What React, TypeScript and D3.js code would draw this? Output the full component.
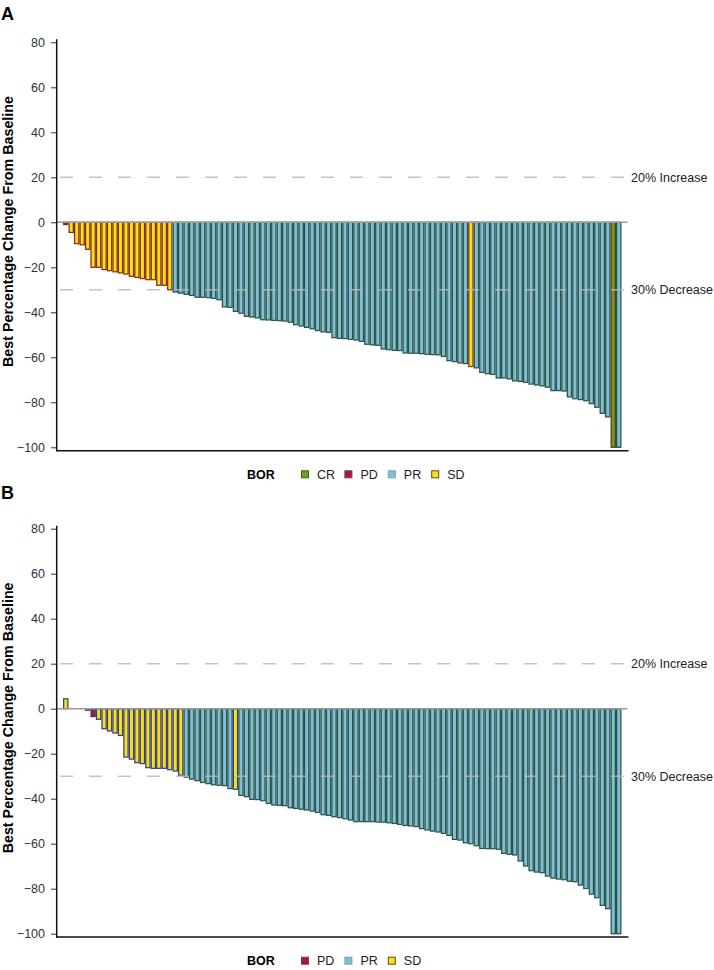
import React, { useEffect, useRef } from "react";
import * as d3 from "d3";

// y axis ticks and the two reference lines
const yTicks = [80, 60, 40, 20, 0, -20, -40, -60, -80, -100];
const refValues = [20, -30];
const refLabels = ["20% Increase", "30% Decrease"];

// panel A: best % change per patient, sorted, and best overall response
const valuesA = [
  -1, -4.5, -9.5, -10, -12, -20, -20, -21, -21.5, -22,
  -22.5, -23, -24, -24.5, -25, -25.5, -25.5, -28, -28, -30,
  -31, -31.5, -32, -32.5, -33.3, -33.3, -33.5, -33.8, -34.4, -37.6,
  -37.8, -39.6, -40.4, -41.8, -42.1, -42.5, -43.3, -43.4, -43.6, -43.7,
  -43.9, -44.4, -45.5, -46.1, -46.7, -47.3, -48.1, -48.7, -48.9, -51.3,
  -51.6, -51.7, -52, -52.3, -52.9, -54.2, -54.5, -54.7, -56.3, -56.6,
  -56.9, -57, -58.1, -58.2, -58.2, -58.4, -58.7, -58.8, -58.9, -59.6,
  -61.5, -61.9, -62.5, -62.8, -64.1, -64.7, -66.7, -67.3, -67.6, -69.2,
  -69.2, -69.6, -70.5, -70.7, -71.1, -71.9, -72.3, -72.7, -73.3, -74.8,
  -74.8, -75, -77.6, -78.4, -78.8, -79.3, -80.6, -82.2, -84.9, -86.5,
  -100, -100,
];
const borA = [
  "PD", "SD", "SD", "SD", "SD", "SD", "SD", "SD", "SD", "SD",
  "SD", "SD", "SD", "SD", "SD", "SD", "SD", "SD", "SD", "SD",
  "PR", "PR", "PR", "PR", "PR", "PR", "PR", "PR", "PR", "PR",
  "PR", "PR", "PR", "PR", "PR", "PR", "PR", "PR", "PR", "PR",
  "PR", "PR", "PR", "PR", "PR", "PR", "PR", "PR", "PR", "PR",
  "PR", "PR", "PR", "PR", "PR", "PR", "PR", "PR", "PR", "PR",
  "PR", "PR", "PR", "PR", "PR", "PR", "PR", "PR", "PR", "PR",
  "PR", "PR", "PR", "PR", "SD", "PR", "PR", "PR", "PR", "PR",
  "PR", "PR", "PR", "PR", "PR", "PR", "PR", "PR", "PR", "PR",
  "PR", "PR", "PR", "PR", "PR", "PR", "PR", "PR", "PR", "PR",
  "CR", "PR",
];
const legendA = ["CR", "PD", "PR", "SD"];

// panel B
const valuesB = [
  4.4, 0, 0, 0, -0.7, -3.5, -4.7, -8.9, -9.9, -10.8,
  -11.9, -21.5, -22.4, -24, -24.4, -26.2, -26.5, -26.5, -26.5, -27.1,
  -27.7, -29.6, -30.4, -31.3, -32, -32.8, -33.3, -33.8, -34, -34.2,
  -35.5, -35.8, -38.5, -39.1, -40.3, -40.4, -40.9, -42.1, -42.8, -43,
  -43.1, -44, -44.3, -44.7, -45, -45.5, -46.1, -47.1, -47.4, -48,
  -48.4, -48.9, -49.5, -50.2, -50.2, -50.2, -50.2, -50.4, -50.4, -50.7,
  -51, -51.4, -51.9, -52.1, -52.4, -53.3, -53.9, -54.4, -54.8, -55.4,
  -56.3, -58.1, -58.4, -59.6, -60, -60.9, -62.1, -62.2, -62.2, -62.5,
  -64.3, -64.7, -65, -67.7, -69.9, -72, -72.6, -72.9, -74.4, -75.3,
  -75.7, -76, -76.7, -76.9, -78.4, -79.9, -82.4, -84, -87.4, -88.9,
  -100, -100,
];
const borB = [
  "SD", "SD", "SD", "SD", "SD", "PD", "SD", "SD", "SD", "SD",
  "SD", "SD", "SD", "SD", "SD", "SD", "SD", "SD", "SD", "SD",
  "SD", "SD", "PR", "PR", "PR", "PR", "PR", "PR", "PR", "PR",
  "PR", "SD", "PR", "PR", "PR", "PR", "PR", "PR", "PR", "PR",
  "PR", "PR", "PR", "PR", "PR", "PR", "PR", "PR", "PR", "PR",
  "PR", "PR", "PR", "PR", "PR", "PR", "PR", "PR", "PR", "PR",
  "PR", "PR", "PR", "PR", "PR", "PR", "PR", "PR", "PR", "PR",
  "PR", "PR", "PR", "PR", "PR", "PR", "PR", "PR", "PR", "PR",
  "PR", "PR", "PR", "PR", "PR", "PR", "PR", "PR", "PR", "PR",
  "PR", "PR", "PR", "PR", "PR", "PR", "PR", "PR", "PR", "PR",
  "PR", "PR",
];
const legendB = ["PD", "PR", "SD"];

const fills: Record<string, string> = { CR: "#6b9c1f", PD: "#b3181f", PR: "#83bdd4", SD: "#f3e314" };
const strokesA: Record<string, string> = { CR: "#5b3a1c", PD: "#8a1f1a", PR: "#275449", SD: "#8b2a1c" };
const strokesB: Record<string, string> = { CR: "#5b3a1c", PD: "#3c3a8a", PR: "#275449", SD: "#3c3a8a" };
const legendStrokes: Record<string, string> = { CR: "#3f6a14", PD: "#5a3a8a", PR: "#7aa3b5", SD: "#5a4a1a" };

const FONT = "'Liberation Sans', Arial, sans-serif";

function drawPanel(svg: any, opts: any) {
  const { values, bor, strokes, legend, letter, top } = opts;
  // top = y position of the 80 tick
  var y = d3.scaleLinear().domain([-100, 80]).range([top + 405, top]);
  var x = d3.scaleBand<number>()
    .domain(values.map((d: number, i: number) => i))
    .range([57, 627.5])
    .paddingInner(0)
    .paddingOuter(1.1);

  var g = svg.append("g");
  var sw = 1.25;

  // panel letter
  g.append("text")
    .attr("x", 1)
    .attr("y", opts.letterY)
    .attr("font-family", FONT)
    .attr("font-weight", "bold")
    .attr("font-size", 18)
    .text(letter);

  // bars
  g.selectAll("rect.bar")
    .data(values)
    .enter()
    .append("rect")
    .attr("class", "bar")
    .attr("x", (d: number, i: number) => (x(i) as number) + sw / 2)
    .attr("width", x.bandwidth() - sw)
    .attr("y", (d: number) => y(Math.max(0, d)))
    .attr("height", (d: number) => Math.abs(y(d) - y(0)))
    .attr("fill", (d: number, i: number) => fills[bor[i]])
    .attr("stroke", (d: number, i: number) => strokes[bor[i]])
    .attr("stroke-width", sw);

  // reference dashed lines
  refValues.forEach(function (v, k) {
    g.append("line")
      .attr("x1", 60)
      .attr("x2", 628)
      .attr("y1", y(v))
      .attr("y2", y(v))
      .attr("stroke", "#b8b8b8")
      .attr("stroke-opacity", 0.85)
      .attr("stroke-width", 1.5)
      .attr("stroke-dasharray", "13 16");
    g.append("text")
      .attr("x", 631)
      .attr("y", y(v))
      .attr("dy", "0.35em")
      .attr("font-family", FONT)
      .attr("font-size", 12.5)
      .attr("fill", "#222")
      .text(refLabels[k]);
  });

  // zero line
  g.append("line")
    .attr("x1", 57)
    .attr("x2", 627.5)
    .attr("y1", y(0))
    .attr("y2", y(0))
    .attr("stroke", "#9a9a9a")
    .attr("stroke-width", 1.5);

  // y axis
  var axis = g.append("g")
    .attr("transform", "translate(57,0)")
    .call(d3.axisLeft(y).tickValues(yTicks).tickSize(6).tickPadding(6).tickFormat(d3.format("d")));
  axis.select(".domain").remove();
  axis.selectAll(".tick line").attr("stroke", "#333");
  axis.selectAll(".tick text")
    .attr("font-family", FONT)
    .attr("font-size", 12.5)
    .attr("fill", "#333");

  g.append("line")
    .attr("x1", 56.7).attr("x2", 56.7)
    .attr("y1", y(80) - 3).attr("y2", y(-100) + 4)
    .attr("stroke", "#111").attr("stroke-width", 1.5);
  g.append("line")
    .attr("x1", 56).attr("x2", 628.5)
    .attr("y1", y(-100) + 3.4).attr("y2", y(-100) + 3.4)
    .attr("stroke", "#111").attr("stroke-width", 1.5);

  // y axis title
  g.append("text")
    .attr("text-anchor", "middle")
    .attr("transform", "translate(13.3," + (top + 189.2) + ")rotate(-90)")
    .attr("font-family", FONT)
    .attr("font-weight", "bold")
    .attr("font-size", 14.3)
    .text("Best Percentage Change From Baseline");

  // legend
  var ly = y(-100) + 27;
  g.append("text")
    .attr("x", 247)
    .attr("y", ly)
    .attr("dy", "0.35em")
    .attr("font-family", FONT)
    .attr("font-weight", "bold")
    .attr("font-size", 12.5)
    .text("BOR");
  legend.forEach(function (c: string, k: number) {
    var lx = 301.5 + k * 43.4;
    g.append("rect")
      .attr("x", lx)
      .attr("y", ly - 3.5)
      .attr("width", 7)
      .attr("height", 7)
      .attr("fill", fills[c])
      .attr("stroke", legendStrokes[c])
      .attr("stroke-width", 1);
    g.append("text")
      .attr("x", lx + 15.5)
      .attr("y", ly)
      .attr("dy", "0.35em")
      .attr("font-family", FONT)
      .attr("font-size", 12.5)
      .attr("fill", "#222")
      .text(c);
  });
}

export default function App() {
  const ref = useRef<SVGSVGElement>(null);

  useEffect(() => {
    var svg = d3.select(ref.current);
    svg.selectAll("*").remove();
    drawPanel(svg, { values: valuesA, bor: borA, strokes: strokesA, legend: legendA, letter: "A", letterY: 20, top: 42.3 });
    drawPanel(svg, { values: valuesB, bor: borB, strokes: strokesB, legend: legendB, letter: "B", letterY: 499, top: 528.7 });
  }, []);

  return (
    <svg
      ref={ref}
      width={714}
      height={970}
      style={{ position: "absolute", left: 0, top: 0, background: "#fff" }}
    />
  );
}
